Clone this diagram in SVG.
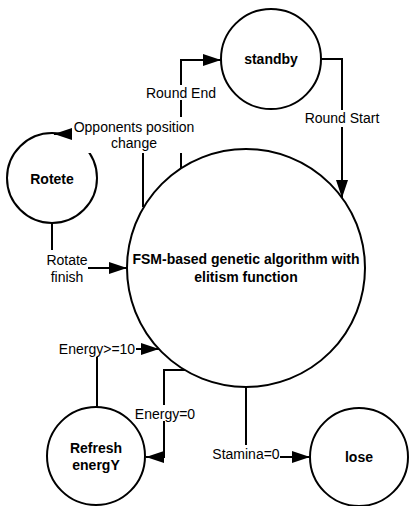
<svg xmlns="http://www.w3.org/2000/svg" width="409" height="506" viewBox="0 0 409 506">
<style>
.node{fill:#fff;stroke:#000;stroke-width:2}
.edge{fill:none;stroke:#000;stroke-width:2}
.nt{font-family:"Liberation Sans",Arial,sans-serif;font-size:14px;font-weight:bold;text-anchor:middle;fill:#000}
.lt{font-family:"Liberation Sans",Arial,sans-serif;font-size:14px;text-anchor:middle;fill:#000}
.bg{fill:#fff;stroke:none}
</style>
<defs>
<marker id="arr" markerUnits="userSpaceOnUse" markerWidth="18" markerHeight="12" refX="18" refY="6" orient="auto">
<path d="M0,0 L18,6 L0,12 z" fill="#000"/>
</marker>
</defs>
<g id="main"><circle class="node" cx="246" cy="268" r="119"/></g>
<g id="standby"><circle class="node" cx="271" cy="59" r="50"/></g>
<g id="rotete"><circle class="node" cx="52" cy="178" r="45"/></g>
<g id="refresh"><circle class="node" cx="96" cy="456" r="49"/></g>
<g id="lose"><circle class="node" cx="359" cy="457" r="49"/></g>
<g id="connectors">
<path class="edge" d="M181,168 V60 H221" marker-end="url(#arr)"/>
<path class="edge" d="M321,59 H342 V198" marker-end="url(#arr)"/>
<path class="edge" d="M143,207 V134 H54" marker-end="url(#arr)"/>
<path class="edge" d="M52,223 V268 H127" marker-end="url(#arr)"/>
<path class="edge" d="M97,407 V349 H159" marker-end="url(#arr)"/>
<path class="edge" d="M185,370 H164 V457 H146" marker-end="url(#arr)"/>
<path class="edge" d="M246,387 V457 H310" marker-end="url(#arr)"/>
</g>
<g id="labels">
<rect class="bg" x="146" y="85" width="70" height="15"/>
<text class="lt" x="181" y="98">Round End</text>
<rect class="bg" x="304" y="110" width="76" height="17"/>
<text class="lt" x="342" y="123">Round Start</text>
<rect class="bg" x="72" y="117" width="122" height="36"/>
<text class="lt" x="134" y="132">Opponents position</text>
<text class="lt" x="134" y="148">change</text>
<rect class="bg" x="46" y="250" width="42" height="37"/>
<text class="lt" x="67" y="265">Rotate</text>
<text class="lt" x="67" y="282">finish</text>
<rect class="bg" x="59" y="340" width="77" height="17"/>
<text class="lt" x="97" y="354">Energy&gt;=10</text>
<rect class="bg" x="134" y="405" width="62" height="16"/>
<text class="lt" x="165" y="419">Energy=0</text>
<rect class="bg" x="211" y="445" width="69" height="17"/>
<text class="lt" x="246" y="459">Stamina=0</text>
</g>
<g id="node-text">
<text class="nt" x="246" y="264">FSM-based genetic algorithm with</text>
<text class="nt" x="246" y="282">elitism function</text>
<text class="nt" x="271" y="64">standby</text>
<text class="nt" x="52" y="184">Rotete</text>
<text class="nt" x="96" y="453">Refresh</text>
<text class="nt" x="96" y="470">energY</text>
<text class="nt" x="359" y="462">lose</text>
</g>
</svg>
